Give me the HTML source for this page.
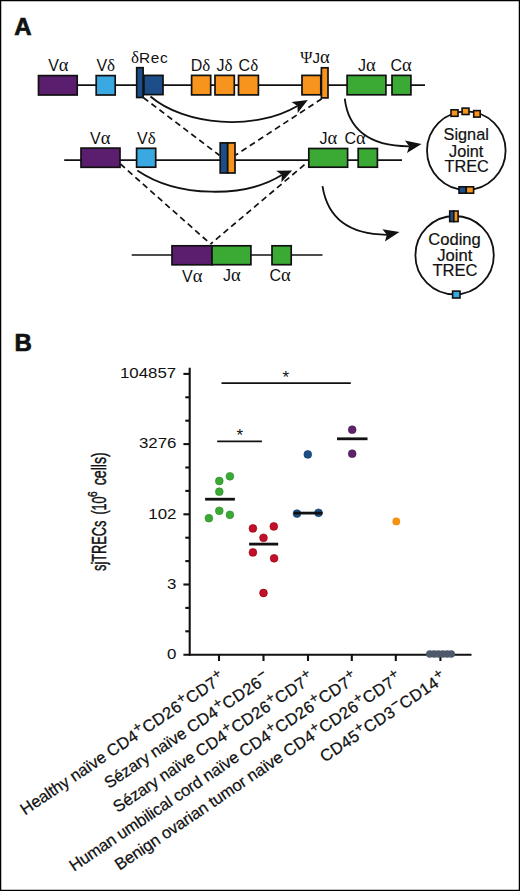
<!DOCTYPE html>
<html><head><meta charset="utf-8">
<style>
html,body{margin:0;padding:0;background:#fff;}
body{width:520px;height:891px;overflow:hidden;}
svg{display:block;}
text{font-family:"Liberation Sans",sans-serif;fill:#111;}
.ga{font-family:"Liberation Serif",serif;font-size:18.5px;}
.gd{font-family:"Liberation Serif",serif;font-size:17px;}
</style></head><body>
<svg width="520" height="891" viewBox="0 0 520 891">
<rect x="0.5" y="0.5" width="519" height="890" fill="#fff" stroke="#000" stroke-width="1.5"/>

<!-- Panel A label -->
<text x="14.3" y="35.4" font-size="24" font-weight="bold" stroke="#111" stroke-width="0.7">A</text>

<!-- Row 1 -->
<g stroke="#111" stroke-width="1.7">
<line x1="78" y1="85.2" x2="425" y2="85.2"/>
<rect x="38.5" y="75.6" width="38.7" height="19.4" fill="#5B1E6F"/>
<rect x="96.2" y="75.6" width="19" height="19.4" fill="#3AA9E1"/>
<rect x="143.9" y="75.4" width="19.1" height="19.2" fill="#1D4E89"/>
<rect x="136.7" y="67.7" width="6.4" height="29.8" fill="#1D4E89"/>
<rect x="191.6" y="75.4" width="19.1" height="19.5" fill="#F7941D"/>
<rect x="215" y="75.4" width="19.3" height="19.5" fill="#F7941D"/>
<rect x="238.5" y="75.4" width="19.9" height="19.5" fill="#F7941D"/>
<rect x="302" y="75.4" width="18.8" height="19.4" fill="#F7941D"/>
<rect x="321.4" y="67.8" width="6.6" height="30.1" fill="#F7941D"/>
<rect x="347.1" y="75.4" width="38.8" height="19.4" fill="#3AAA35"/>
<rect x="392" y="75.4" width="18.9" height="19.4" fill="#3AAA35"/>
</g>
<g font-size="16">
<text x="48.2" y="70.9">V<tspan class="ga">α</tspan></text>
<text x="96.4" y="70.9">V<tspan class="gd">δ</tspan></text>
<text x="190.7" y="70.5">D<tspan class="gd">δ</tspan></text>
<text x="216.4" y="70.5">J<tspan class="gd">δ</tspan></text>
<text x="238.6" y="70.5">C<tspan class="gd">δ</tspan></text>
<text x="358" y="70.8">J<tspan class="ga">α</tspan></text>
<text x="390.5" y="70.8">C<tspan class="ga">α</tspan></text>
</g>
<g font-size="15">
<text x="131" y="62.8"><tspan class="gd">δ</tspan><tspan font-size="15.4" letter-spacing="0.7">Rec</tspan></text>
<text x="300.2" y="62.5"><tspan font-family="Liberation Serif" font-size="16.5">Ψ</tspan>J<tspan class="ga">α</tspan></text>
</g>

<!-- Row 2 -->
<g stroke="#111" stroke-width="1.7">
<line x1="64.2" y1="160.2" x2="402" y2="160.2"/>
<rect x="81" y="148.1" width="39" height="19.2" fill="#5B1E6F"/>
<rect x="136.6" y="148.3" width="19.1" height="18.9" fill="#3AA9E1"/>
<rect x="220.2" y="142.9" width="7.5" height="30.1" fill="#1D4E89"/>
<rect x="227.7" y="142.9" width="7.3" height="30.1" fill="#F7941D"/>
<rect x="308.8" y="148.5" width="38.8" height="18.7" fill="#3AAA35"/>
<rect x="358.2" y="148.5" width="19.2" height="18.7" fill="#3AAA35"/>
</g>
<g font-size="16">
<text x="90" y="143.7">V<tspan class="ga">α</tspan></text>
<text x="137" y="143.7">V<tspan class="gd">δ</tspan></text>
<text x="319.5" y="143.5">J<tspan class="ga">α</tspan></text>
<text x="344.5" y="143.5">C<tspan class="ga">α</tspan></text>
</g>

<!-- Row 3 -->
<g stroke="#111" stroke-width="1.7">
<line x1="131.7" y1="255" x2="322.5" y2="255"/>
<rect x="172" y="245.8" width="40" height="19" fill="#5B1E6F"/>
<rect x="212" y="245.8" width="38.9" height="18.9" fill="#3AAA35"/>
<rect x="272" y="245.8" width="19.2" height="18.9" fill="#3AAA35"/>
</g>
<g font-size="16">
<text x="182" y="281.6">V<tspan class="ga">α</tspan></text>
<text x="223" y="281.3">J<tspan class="ga">α</tspan></text>
<text x="269.5" y="281.3">C<tspan class="ga">α</tspan></text>
</g>

<!-- dashed lines -->
<g stroke="#111" stroke-width="1.7" stroke-dasharray="6 4" fill="none">
<line x1="143.5" y1="97.7" x2="219.4" y2="155.3"/>
<line x1="321.8" y1="98.7" x2="235.8" y2="155"/>
<line x1="120.4" y1="164" x2="210.6" y2="244"/>
<line x1="304.5" y1="164.7" x2="210.6" y2="244"/>
</g>

<!-- curved arrows -->
<g stroke="#111" stroke-width="1.8" fill="none">
<path d="M150.5,96.5 C185,126 255,131 297.4,105.9"/>
<path d="M344.8,98.7 C348,128 368,146.5 409.2,146.3"/>
<path d="M137.3,170.4 C178,198 245,198 281.8,175.1"/>
<path d="M322.5,186.2 C327,215 345,234.5 386.9,234.8"/>
</g>
<g fill="#111">
<path d="M307.8,100.1 L291.5,102.0 L297.5,105.9 L297.7,113.0 Z"/>
<path d="M421.5,144.1 L404.9,140.6 L409.2,146.2 L407.0,153.0 Z"/>
<path d="M292.2,170.4 L276.2,170.7 L281.8,175.1 L281.4,182.2 Z"/>
<path d="M399.5,232.1 L382.4,229.2 L386.9,234.7 L384.9,241.5 Z"/>
</g>

<!-- Signal joint TREC -->
<circle cx="466.3" cy="150.6" r="39.3" fill="none" stroke="#111" stroke-width="1.8"/>
<g stroke="#111" stroke-width="1.6">
<rect x="451" y="109.8" width="7" height="6.5" fill="#F7941D"/>
<rect x="462.1" y="108.1" width="6.9" height="6.4" fill="#F7941D"/>
<rect x="473.7" y="110.6" width="6.5" height="6.5" fill="#F7941D"/>
<rect x="459" y="186.8" width="7.3" height="6.4" fill="#1D4E89"/>
<rect x="466.3" y="186.8" width="7.3" height="6.4" fill="#F7941D"/>
</g>
<g font-size="16.3" text-anchor="middle" stroke="#111" stroke-width="0.2">
<text x="466.2" y="140.2">Signal</text>
<text x="466.2" y="156.5">Joint</text>
<text x="466.7" y="171.6">TREC</text>
</g>

<!-- Coding joint TREC -->
<circle cx="454.6" cy="255.2" r="39.2" fill="none" stroke="#111" stroke-width="1.8"/>
<g stroke="#111" stroke-width="1.6">
<rect x="449.7" y="211" width="4.1" height="10.6" fill="#1D4E89"/>
<rect x="453.8" y="211" width="4.3" height="10.6" fill="#F7941D"/>
<rect x="452.6" y="291.1" width="7.4" height="6.9" fill="#3AA9E1"/>
</g>
<g font-size="16.6" text-anchor="middle" stroke="#111" stroke-width="0.2">
<text x="454.5" y="244.5">Coding</text>
<text x="454.8" y="260.6">Joint</text>
<text x="455" y="276.1">TREC</text>
</g>

<!-- Panel B -->
<text x="14.6" y="351.3" font-size="24" font-weight="bold" stroke="#111" stroke-width="0.7">B</text>

<g stroke="#111" stroke-width="2.1" fill="none">
<line x1="189.7" y1="367.8" x2="189.7" y2="655.7"/>
<line x1="183.4" y1="654.7" x2="471.5" y2="654.7"/>
<!-- major ticks -->
<line x1="183.4" y1="373.9" x2="189.7" y2="373.9"/>
<line x1="183.4" y1="444.1" x2="189.7" y2="444.1"/>
<line x1="183.4" y1="514.3" x2="189.7" y2="514.3"/>
<line x1="183.4" y1="584.5" x2="189.7" y2="584.5"/>
<!-- minor ticks -->
<line x1="185.3" y1="397.3" x2="189.7" y2="397.3"/>
<line x1="185.3" y1="420.7" x2="189.7" y2="420.7"/>
<line x1="185.3" y1="467.5" x2="189.7" y2="467.5"/>
<line x1="185.3" y1="490.9" x2="189.7" y2="490.9"/>
<line x1="185.3" y1="537.7" x2="189.7" y2="537.7"/>
<line x1="185.3" y1="561.1" x2="189.7" y2="561.1"/>
<line x1="185.3" y1="607.9" x2="189.7" y2="607.9"/>
<line x1="185.3" y1="631.3" x2="189.7" y2="631.3"/>
<!-- x ticks -->
<line x1="219" y1="654.7" x2="219" y2="661"/>
<line x1="263.5" y1="654.7" x2="263.5" y2="661"/>
<line x1="308" y1="654.7" x2="308" y2="661"/>
<line x1="351.8" y1="654.7" x2="351.8" y2="661"/>
<line x1="395.8" y1="654.7" x2="395.8" y2="661"/>
<line x1="440.4" y1="654.7" x2="440.4" y2="661"/>
</g>
<g font-size="15" text-anchor="end">
<text transform="translate(176.2,378.1) scale(1.125,1)">104857</text>
<text transform="translate(176.4,448.3) scale(1.125,1)">3276</text>
<text transform="translate(176.4,519.3) scale(1.125,1)">102</text>
<text transform="translate(176.4,589.3) scale(1.125,1)">3</text>
<text transform="translate(176.4,659.3) scale(1.125,1)">0</text>
</g>

<!-- significance -->
<g stroke="#111" stroke-width="1.7">
<line x1="221.5" y1="383.1" x2="350.8" y2="383.1"/>
<line x1="217.2" y1="441.3" x2="261.9" y2="441.3"/>
</g>
<g font-size="17" text-anchor="middle">
<text x="285.9" y="382.9">*</text>
<text x="239.8" y="440.9">*</text>
</g>

<!-- dots -->
<g fill="#3AAA35" stroke="#2a8a2a" stroke-width="0.6">
<circle cx="229.9" cy="476.3" r="3.9"/>
<circle cx="219.3" cy="481" r="3.9"/>
<circle cx="219.3" cy="491.7" r="3.9"/>
<circle cx="219.3" cy="510.8" r="3.9"/>
<circle cx="229.9" cy="514.8" r="3.9"/>
<circle cx="208.9" cy="518.2" r="3.9"/>
</g>
<g fill="#C0102C" stroke="#900" stroke-width="0.6">
<circle cx="252.9" cy="528.4" r="3.9"/>
<circle cx="273.8" cy="526.4" r="3.9"/>
<circle cx="263.5" cy="537.8" r="3.9"/>
<circle cx="252.9" cy="552.4" r="3.9"/>
<circle cx="274.1" cy="558.3" r="3.9"/>
<circle cx="263.5" cy="593" r="3.9"/>
</g>
<g fill="#1B4F86" stroke="#123a66" stroke-width="0.6">
<circle cx="307.8" cy="454.4" r="3.9"/>
<circle cx="297" cy="513.6" r="3.9"/>
<circle cx="318.5" cy="512.8" r="3.9"/>
</g>
<g fill="#5E2469" stroke="#451a4f" stroke-width="0.6">
<circle cx="352.2" cy="429.7" r="3.9"/>
<circle cx="352.2" cy="453.7" r="3.9"/>
</g>
<circle cx="396.3" cy="521.4" r="3.9" fill="#F39314"/>
<g fill="#4E5A6B">
<circle cx="429.8" cy="654" r="3.8"/>
<circle cx="434.1" cy="654" r="3.8"/>
<circle cx="438.4" cy="654" r="3.8"/>
<circle cx="442.7" cy="654" r="3.8"/>
<circle cx="447" cy="654" r="3.8"/>
<circle cx="451.2" cy="654" r="3.8"/>
</g>

<!-- medians -->
<g stroke="#111" stroke-width="2.8">
<line x1="205.1" y1="499.2" x2="234.9" y2="499.2"/>
<line x1="249.1" y1="544.1" x2="278.2" y2="544.1"/>
<line x1="293.7" y1="513.1" x2="322.5" y2="513.1"/>
<line x1="337" y1="438.8" x2="367.5" y2="438.8"/>
</g>

<!-- y label -->
<g font-size="19.4" stroke="#111" stroke-width="0.45">
<text transform="translate(105.7,571) rotate(-90)" textLength="50.5" lengthAdjust="spacingAndGlyphs">sjTRECs</text>
<text transform="translate(105.7,514.6) rotate(-90)" textLength="18.2" lengthAdjust="spacingAndGlyphs">(10</text>
<text transform="translate(96.8,497) rotate(-90)" font-size="12" textLength="5.6" lengthAdjust="spacingAndGlyphs">6</text>
<text transform="translate(105.7,485.3) rotate(-90)" textLength="33" lengthAdjust="spacingAndGlyphs">cells)</text>
</g>
<!-- x labels -->
<g font-size="16.5" text-anchor="end" stroke="#111" stroke-width="0.25">
<text class="xl" transform="translate(225.8,680.6) rotate(-33.9)"><tspan letter-spacing="-0.12">Healthy naïve </tspan><tspan letter-spacing="0.35">CD4</tspan><tspan dx="0.3" dy="-6.2" font-size="14.0" letter-spacing="0">+</tspan><tspan dx="0.4" dy="6.2" letter-spacing="0.35">CD26</tspan><tspan dx="0.3" dy="-6.2" font-size="14.0" letter-spacing="0">+</tspan><tspan dx="0.4" dy="6.2" letter-spacing="0.35">CD7</tspan><tspan dx="0.3" dy="-6.2" font-size="14.0" letter-spacing="0">+</tspan></text>
<text class="xl" transform="translate(270.3,680.6) rotate(-33.9)"><tspan letter-spacing="-0.12">Sézary naïve </tspan><tspan letter-spacing="0.35">CD4</tspan><tspan dx="0.3" dy="-6.2" font-size="14.0" letter-spacing="0">+</tspan><tspan dx="0.4" dy="6.2" letter-spacing="0.35">CD26</tspan><tspan dx="0.3" dy="-6.2" font-size="14.0" letter-spacing="0">−</tspan></text>
<text class="xl" transform="translate(314.8,680.6) rotate(-33.9)"><tspan letter-spacing="-0.12">Sézary naïve </tspan><tspan letter-spacing="0.35">CD4</tspan><tspan dx="0.3" dy="-6.2" font-size="14.0" letter-spacing="0">+</tspan><tspan dx="0.4" dy="6.2" letter-spacing="0.35">CD26</tspan><tspan dx="0.3" dy="-6.2" font-size="14.0" letter-spacing="0">+</tspan><tspan dx="0.4" dy="6.2" letter-spacing="0.35">CD7</tspan><tspan dx="0.3" dy="-6.2" font-size="14.0" letter-spacing="0">+</tspan></text>
<text class="xl" transform="translate(358.6,680.6) rotate(-33.9)"><tspan letter-spacing="-0.12">Human umbilical cord naïve </tspan><tspan letter-spacing="0.35">CD4</tspan><tspan dx="0.3" dy="-6.2" font-size="14.0" letter-spacing="0">+</tspan><tspan dx="0.4" dy="6.2" letter-spacing="0.35">CD26</tspan><tspan dx="0.3" dy="-6.2" font-size="14.0" letter-spacing="0">+</tspan><tspan dx="0.4" dy="6.2" letter-spacing="0.35">CD7</tspan><tspan dx="0.3" dy="-6.2" font-size="14.0" letter-spacing="0">+</tspan></text>
<text class="xl" transform="translate(402.6,680.6) rotate(-33.9)"><tspan letter-spacing="-0.12">Benign ovarian tumor naïve </tspan><tspan letter-spacing="0.35">CD4</tspan><tspan dx="0.3" dy="-6.2" font-size="14.0" letter-spacing="0">+</tspan><tspan dx="0.4" dy="6.2" letter-spacing="0.35">CD26</tspan><tspan dx="0.3" dy="-6.2" font-size="14.0" letter-spacing="0">+</tspan><tspan dx="0.4" dy="6.2" letter-spacing="0.35">CD7</tspan><tspan dx="0.3" dy="-6.2" font-size="14.0" letter-spacing="0">+</tspan></text>
<text class="xl" transform="translate(447.2,680.6) rotate(-33.9)"><tspan letter-spacing="0.35">CD45</tspan><tspan dx="0.3" dy="-6.2" font-size="14.0" letter-spacing="0">+</tspan><tspan dx="0.4" dy="6.2" letter-spacing="0.35">CD3</tspan><tspan dx="0.3" dy="-6.2" font-size="14.0" letter-spacing="0">−</tspan><tspan dx="0.4" dy="6.2" letter-spacing="0.35">CD14</tspan><tspan dx="0.3" dy="-6.2" font-size="14.0" letter-spacing="0">+</tspan></text>
</g>
</svg>
</body></html>
